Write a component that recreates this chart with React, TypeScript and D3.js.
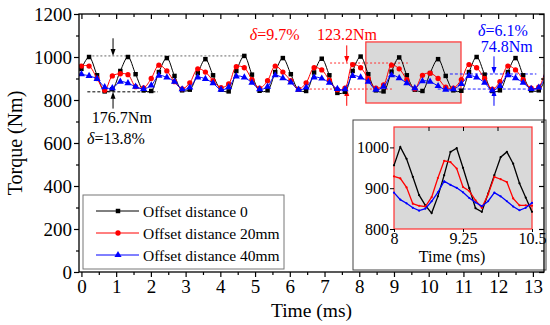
import React, { useEffect, useRef } from "react";
import * as d3 from "d3";

// time axis (ms), one value per plotted marker
const time = [
  0, 0.22, 0.45, 0.67, 0.89, 1.12, 1.34, 1.56, 1.79, 2.01, 2.23, 2.46, 2.68, 2.9, 3.12,
  3.35, 3.57, 3.79, 4.02, 4.24, 4.46, 4.69, 4.91, 5.13, 5.36, 5.58, 5.8, 6.03, 6.25, 6.47,
  6.7, 6.92, 7.14, 7.37, 7.59, 7.81, 8.04, 8.26, 8.48, 8.7, 8.93, 9.15, 9.37, 9.6, 9.82,
  10.04, 10.27, 10.49, 10.71, 10.94, 11.16, 11.38, 11.61, 11.83, 12.05, 12.28, 12.5, 12.72,
  12.95, 13.17, 13.39,
];

const offset0 = [
  945, 1000, 915, 840, 850, 935, 1000, 920, 845, 842, 930, 995, 912, 845, 848,
  925, 990, 915, 848, 840, 935, 1005, 918, 843, 845, 930, 995, 920, 848, 842,
  928, 992, 915, 833, 838, 935, 1002, 920, 845, 840, 932, 998, 915, 848, 842,
  925, 990, 912, 845, 843, 930, 1000, 918, 842, 845, 930, 995, 915, 845, 845,
  915,
];

const offset20 = [
  958, 958, 900, 845, 912, 922, 918, 862, 856, 900, 962, 935, 885, 852, 880,
  945, 930, 890, 858, 875, 955, 950, 895, 855, 890, 958, 930, 890, 850, 880,
  950, 940, 892, 848, 855, 965, 950, 900, 855, 870, 962, 945, 895, 852, 915,
  925, 900, 860, 855, 895, 965, 950, 900, 850, 885, 958, 940, 895, 855, 860,
  960,
];

const offset40 = [
  920, 912, 898, 860, 855, 885, 878, 862, 852, 868, 913, 905, 885, 850, 858,
  905, 898, 878, 848, 860, 910, 905, 880, 850, 862, 915, 902, 882, 848, 858,
  905, 900, 880, 852, 850, 912, 905, 885, 848, 862, 915, 902, 878, 855, 888,
  885, 865, 848, 850, 875, 912, 905, 880, 845, 865, 915, 902, 880, 852, 858,
  918,
];

// detailed samples shown in the inset (8 - 10.5 ms)
const zoomTime = [
  8, 8.114, 8.227, 8.341, 8.455, 8.568, 8.682, 8.795, 8.909, 9.023, 9.136, 9.25,
  9.364, 9.477, 9.591, 9.705, 9.818, 9.932, 10.045, 10.159, 10.273, 10.386, 10.5,
];
const zoom0 = [
  956, 1001, 972, 928, 883, 858, 839, 880, 932, 989, 998, 950,
  900, 851, 842, 887, 932, 976, 989, 960, 912, 877, 842,
];
const zoom20 = [
  929, 924, 902, 862, 857, 855, 878, 925, 967, 964, 948, 903,
  893, 870, 852, 885, 928, 922, 915, 875, 858, 858, 857,
];
const zoom40 = [
  889, 872, 863, 852, 845, 850, 868, 890, 917, 908, 901, 890,
  876, 865, 856, 868, 889, 880, 868, 855, 846, 852, 864,
];

const xTicks = [0, 1, 2, 3, 4, 5, 6, 7, 8, 9, 10, 11, 12, 13];
const yTicks = [0, 200, 400, 600, 800, 1000, 1200];
const zoomXTicks = [8, 9.25, 10.5];
const zoomYTicks = [800, 900, 1000];

const legendLabels = ["Offset distance 0", "Offset distance 20mm", "Offset distance 40mm"];

// torque ripple annotations: [black, red, blue]
const rippleMax = [1005, 972, 921];
const rippleMin = [838, 851, 851];
const rippleAt = [0.91, 7.64, 11.88];
const rippleText = ["176.7Nm", "123.2Nm", "74.8Nm"];
const deltaText = ["13.8%", "9.7%", "6.1%"];

const FONT = "'Liberation Serif', 'Times New Roman', serif";

const App = () => {
  const svgRef = useRef<SVGSVGElement>(null);

  useEffect(() => {
    const svg = d3.select(svgRef.current);
    svg.selectAll("*").remove();

    const left = 79, right = 544, top = 14, bottom = 272;
    const x = d3.scaleLinear().domain([-0.07, 13.32]).range([left, right]);
    const y = d3.scaleLinear().domain([0, 1200]).range([bottom, top]);

    svg
      .append("defs")
      .append("clipPath")
      .attr("id", "plotClip")
      .append("rect")
      .attr("x", left)
      .attr("y", top)
      .attr("width", right - left)
      .attr("height", bottom - top);

    // zoom window marker
    svg
      .append("rect")
      .attr("x", x(8.19))
      .attr("y", y(1070))
      .attr("width", x(10.93) - x(8.19))
      .attr("height", y(786) - y(1070))
      .attr("fill", "#d9d9d9")
      .attr("stroke", "#ff3030")
      .attr("stroke-width", 1.2);

    // ripple guide lines
    const guide = (t0, t1, v, color, dash) =>
      svg
        .append("line")
        .attr("x1", x(t0))
        .attr("x2", x(t1))
        .attr("y1", y(v))
        .attr("y2", y(v))
        .attr("stroke", color)
        .attr("stroke-width", 1)
        .attr("stroke-dasharray", dash);
    guide(0.2, 4.75, rippleMax[0], "#666", "2,2");
    guide(0.17, 2.2, rippleMin[0], "#000", "3,2");
    guide(7.16, 9.4, rippleMax[1], "#ff3030", "2,2");
    guide(6.58, 8.97, rippleMin[1], "#ff3030", "2,2");
    guide(10.61, 13.1, rippleMax[2], "#2020ff", "3,2");
    guide(10.26, 13.1, rippleMin[2], "#2020ff", "3,2");

    const arrow = (t, from, to, color) => {
      const ax = x(t);
      const y1 = y(from);
      const y2 = y(to);
      const dir = y2 > y1 ? 1 : -1;
      svg
        .append("line")
        .attr("x1", ax)
        .attr("x2", ax)
        .attr("y1", y1)
        .attr("y2", y2 - dir * 5)
        .attr("stroke", color)
        .attr("stroke-width", 1);
      svg
        .append("path")
        .attr("d", `M${ax - 2.5},${y2 - dir * 7}L${ax + 2.5},${y2 - dir * 7}L${ax},${y2}Z`)
        .attr("fill", color);
    };
    const rippleColors = ["#000", "#ff0000", "#0000ff"];
    rippleColors.forEach((c, i) => {
      arrow(rippleAt[i], rippleMax[i] + 82, rippleMax[i], c);
      arrow(rippleAt[i], rippleMin[i] - 78, rippleMin[i], c);
    });

    const note = (tx, v, color, parts) => {
      const t = svg
        .append("text")
        .attr("x", x(tx))
        .attr("y", y(v))
        .attr("fill", color)
        .style("font-family", FONT)
        .style("font-size", "16px");
      parts.forEach(([s, italic]) =>
        t.append("tspan").style("font-style", italic ? "italic" : "normal").text(s)
      );
    };
    note(0.3, 693, "#000", [[rippleText[0], false]]);
    note(0.16, 595, "#000", [["δ", true], ["=" + deltaText[0], false]]);
    note(4.85, 1079, "#ff0000", [["δ", true], ["=" + deltaText[1], false]]);
    note(6.78, 1079, "#ff0000", [[rippleText[1], false]]);
    note(11.42, 1096, "#0000ff", [["δ", true], ["=" + deltaText[2], false]]);
    note(11.5, 1022, "#0000ff", [[rippleText[2], false]]);

    // curves
    const series = [
      { values: offset0, color: "#000000", symbol: d3.symbolSquare, size: 20 },
      { values: offset20, color: "#ff0000", symbol: d3.symbolCircle, size: 22 },
      { values: offset40, color: "#0000ff", symbol: d3.symbolTriangle, size: 22 },
    ];
    const plot = svg.append("g").attr("clip-path", "url(#plotClip)");
    series.forEach((s) => {
      const line = d3
        .line<number>()
        .x((d, i) => x(time[i]))
        .y((d) => y(d))
        .curve(d3.curveCatmullRom);
      plot
        .append("path")
        .datum(s.values)
        .attr("fill", "none")
        .attr("stroke", s.color)
        .attr("stroke-width", 1)
        .attr("d", line);
      plot
        .selectAll(null)
        .data(s.values)
        .enter()
        .append("path")
        .attr("transform", (d, i) => `translate(${x(time[i])},${y(d)})`)
        .attr("d", d3.symbol().type(s.symbol).size(s.size)())
        .attr("fill", s.color);
    });

    // legend
    const legend = svg.append("g");
    legend
      .append("rect")
      .attr("x", 83)
      .attr("y", 195)
      .attr("width", 201)
      .attr("height", 74)
      .attr("fill", "#fff")
      .attr("stroke", "#777")
      .attr("stroke-width", 1);
    series.forEach((s, i) => {
      const ly = 211 + i * 22;
      legend
        .append("line")
        .attr("x1", 96)
        .attr("x2", 139)
        .attr("y1", ly)
        .attr("y2", ly)
        .attr("stroke", s.color)
        .attr("stroke-width", 1);
      legend
        .append("path")
        .attr("transform", `translate(118,${ly})`)
        .attr("d", d3.symbol().type(s.symbol).size(s.size)())
        .attr("fill", s.color);
      legend
        .append("text")
        .attr("x", 143)
        .attr("y", ly + 5.5)
        .style("font-family", FONT)
        .style("font-size", "15.5px")
        .text(legendLabels[i]);
    });

    // inset
    const ix = d3.scaleLinear().domain([8, 10.5]).range([394, 532]);
    const iy = d3.scaleLinear().domain([800, 1050]).range([229, 127]);
    const inset = svg.append("g");
    inset
      .append("rect")
      .attr("x", 353)
      .attr("y", 120)
      .attr("width", 193)
      .attr("height", 150)
      .attr("fill", "#fff")
      .attr("stroke", "#444")
      .attr("stroke-width", 1);
    inset
      .append("rect")
      .attr("x", 394)
      .attr("y", 127)
      .attr("width", 532 - 394)
      .attr("height", 229 - 127)
      .attr("fill", "#d9d9d9")
      .attr("stroke", "#ff3030")
      .attr("stroke-width", 1.2);
    [zoom0, zoom20, zoom40].forEach((vals, k) => {
      const line = d3
        .line<number>()
        .x((d, i) => ix(zoomTime[i]))
        .y((d) => iy(d));
      inset
        .append("path")
        .datum(vals)
        .attr("fill", "none")
        .attr("stroke", series[k].color)
        .attr("stroke-width", 1.3)
        .attr("d", line);
      inset
        .selectAll(null)
        .data(vals)
        .enter()
        .append("circle")
        .attr("cx", (d, i) => ix(zoomTime[i]))
        .attr("cy", (d) => iy(d))
        .attr("r", 1.1)
        .attr("fill", series[k].color);
    });
    const insetAxis = (g) => {
      g.select(".domain").remove();
      g.selectAll("line").attr("stroke", "#000").attr("stroke-width", 1);
      g.selectAll("text")
        .style("font-family", FONT)
        .style("font-size", "16px")
        .attr("fill", "#000");
    };
    inset
      .append("g")
      .attr("transform", "translate(394,0)")
      .call(d3.axisLeft(iy).tickValues(zoomYTicks).tickSize(4).tickPadding(1).tickFormat(d3.format("d")))
      .call(insetAxis);
    inset
      .append("g")
      .attr("transform", "translate(0,229)")
      .call(
        d3.axisBottom(ix).tickValues(zoomXTicks).tickSize(3).tickPadding(1).tickFormat((d) => String(d))
      )
      .call(insetAxis);
    inset
      .append("g")
      .attr("transform", "translate(0,127)")
      .call(d3.axisTop(ix).tickValues([8.625, 9.25, 9.875]).tickSize(-4).tickFormat(() => ""))
      .call(insetAxis);
    inset
      .append("text")
      .attr("x", 452)
      .attr("y", 262)
      .attr("text-anchor", "middle")
      .style("font-family", FONT)
      .style("font-size", "16px")
      .text("Time (ms)");

    // main axes
    const styleAxis = (g) => {
      g.select(".domain").remove();
      g.selectAll("line").attr("stroke", "#000").attr("stroke-width", 1.2);
      g.selectAll("text")
        .style("font-family", FONT)
        .style("font-size", "19px")
        .attr("fill", "#000");
    };
    const xMinor = d3.range(0.5, 13.5, 1);
    const yMinor = d3.range(100, 1200, 200);
    svg
      .append("g")
      .attr("transform", `translate(0,${bottom})`)
      .call(d3.axisBottom(x).tickValues(xTicks).tickSize(5).tickPadding(3).tickFormat(d3.format("d")))
      .call(styleAxis);
    svg
      .append("g")
      .attr("transform", `translate(0,${bottom})`)
      .call(d3.axisBottom(x).tickValues(xMinor).tickSize(3).tickFormat(() => ""))
      .call(styleAxis);
    svg
      .append("g")
      .attr("transform", `translate(${left},0)`)
      .call(d3.axisLeft(y).tickValues(yTicks).tickSize(5).tickPadding(2).tickFormat(d3.format("d")))
      .call(styleAxis);
    svg
      .append("g")
      .attr("transform", `translate(${left},0)`)
      .call(d3.axisLeft(y).tickValues(yMinor).tickSize(3).tickFormat(() => ""))
      .call(styleAxis);
    svg
      .append("g")
      .attr("transform", `translate(0,${top})`)
      .call(d3.axisTop(x).tickValues(xTicks).tickSize(-5).tickFormat(() => ""))
      .call(styleAxis);
    svg
      .append("g")
      .attr("transform", `translate(0,${top})`)
      .call(d3.axisTop(x).tickValues(xMinor).tickSize(-3).tickFormat(() => ""))
      .call(styleAxis);
    svg
      .append("g")
      .attr("transform", `translate(${right},0)`)
      .call(d3.axisRight(y).tickValues(yTicks).tickSize(-5).tickFormat(() => ""))
      .call(styleAxis);
    svg
      .append("g")
      .attr("transform", `translate(${right},0)`)
      .call(d3.axisRight(y).tickValues(yMinor).tickSize(-3).tickFormat(() => ""))
      .call(styleAxis);
    svg
      .append("rect")
      .attr("x", left)
      .attr("y", top)
      .attr("width", right - left)
      .attr("height", bottom - top)
      .attr("fill", "none")
      .attr("stroke", "#000")
      .attr("stroke-width", 1.3);

    svg
      .append("text")
      .attr("x", (left + right) / 2)
      .attr("y", 317)
      .attr("text-anchor", "middle")
      .style("font-family", FONT)
      .style("font-size", "19.5px")
      .text("Time (ms)");
    svg
      .append("text")
      .attr("transform", `translate(22,${(top + bottom) / 2}) rotate(-90)`)
      .attr("text-anchor", "middle")
      .style("font-family", FONT)
      .style("font-size", "20px")
      .text("Torque (Nm)");
  }, []);

  return (
    <svg
      ref={svgRef}
      width={550}
      height={325}
      style={{ position: "absolute", left: 0, top: 0, background: "#fff" }}
    />
  );
};

export default App;
